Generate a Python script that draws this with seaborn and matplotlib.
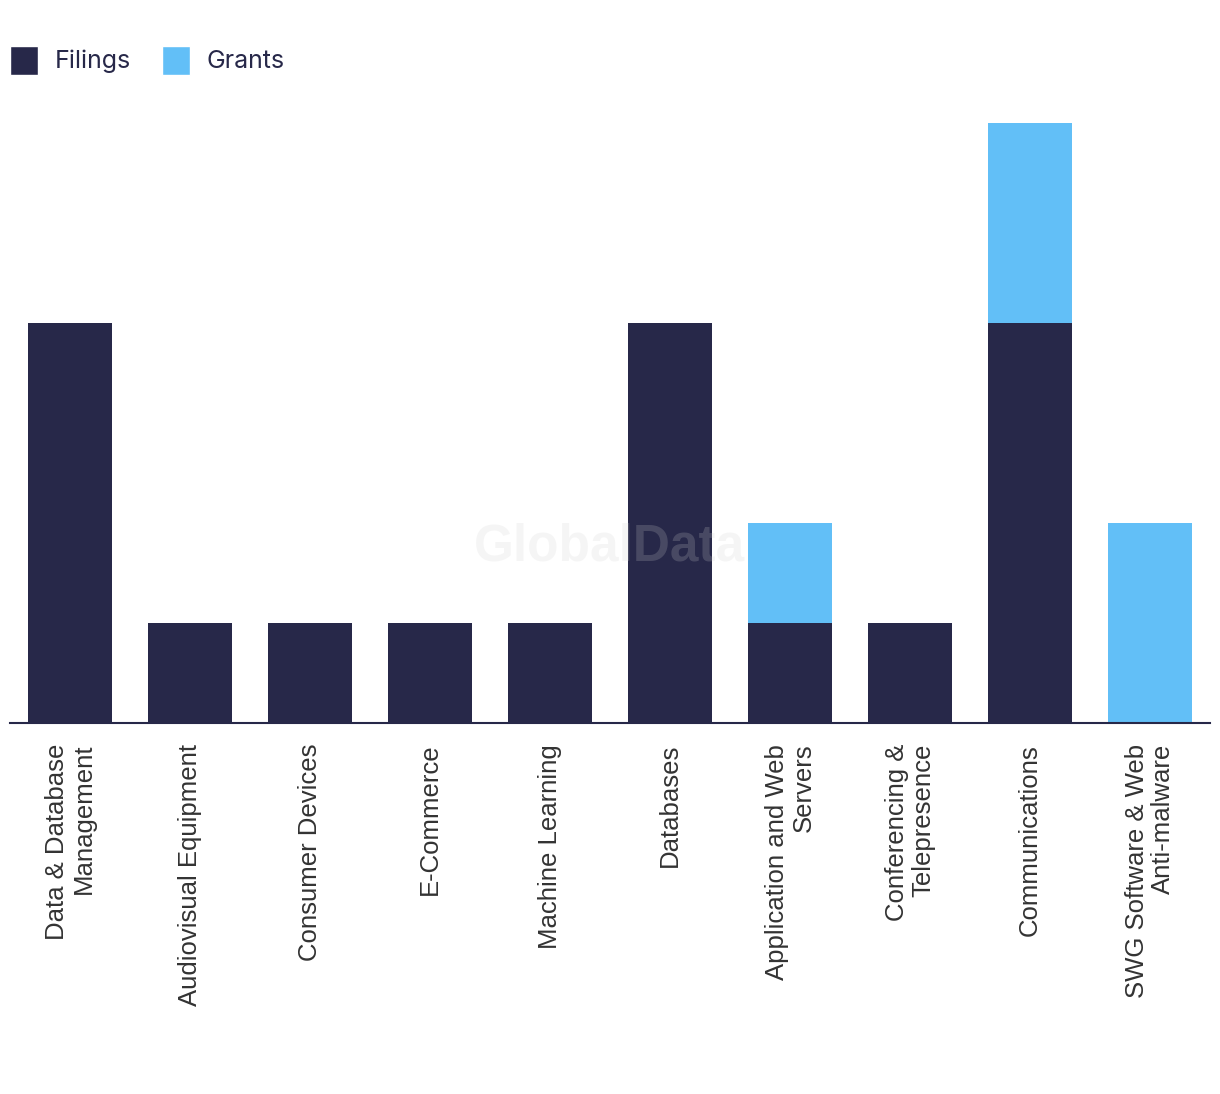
import matplotlib
matplotlib.use("Agg")
import matplotlib.pyplot as plt
from matplotlib.patches import Patch
import seaborn as sns
import pandas as pd

categories = [
    "Data & Database\nManagement",
    "Audiovisual Equipment",
    "Consumer Devices",
    "E-Commerce",
    "Machine Learning",
    "Databases",
    "Application and Web\nServers",
    "Conferencing &\nTelepresence",
    "Communications",
    "SWG Software & Web\nAnti-malware",
]
filings = [4, 1, 1, 1, 1, 4, 1, 1, 4, 0]
grants = [0, 0, 0, 0, 0, 0, 1, 0, 2, 2]

navy = "#272849"
blue = "#62bff7"

df = pd.DataFrame({"category": categories, "Filings": filings, "Grants": grants})
df["total"] = df["Filings"] + df["Grants"]

sns.set_style("white")
fig = plt.figure(figsize=(12.2, 10.94), dpi=100)
ax = fig.add_axes([10 / 1220, 371 / 1094, 1200 / 1220, 600 / 1094])

# stacked: total in grants colour, filings drawn over it
sns.barplot(data=df, x="category", y="total", color=blue, width=0.7,
            saturation=1, linewidth=0, ax=ax)
sns.barplot(data=df, x="category", y="Filings", color=navy, width=0.7,
            saturation=1, linewidth=0, ax=ax)

ax.set_xlim(-0.5, len(categories) - 0.5)
ax.set_ylim(0, 6)
ax.set_xlabel("")
ax.set_ylabel("")
ax.set_yticks([])
sns.despine(ax=ax, left=True)
ax.spines["bottom"].set_color(navy)
ax.spines["bottom"].set_linewidth(1.5)
ax.tick_params(axis="x", length=0, pad=15)
for lab in ax.get_xticklabels():
    lab.set_rotation(90)
    lab.set_ha("center")
    lab.set_va("top")
    lab.set_multialignment("right")
    lab.set_fontsize(18.5)
    lab.set_color("#333333")
    lab.set_family("Liberation Sans")
    lab.set_linespacing(1.15)

# watermark
fig.text(610 / 1220, 1 - 547 / 1094, "GlobalData", ha="center", va="center",
         fontsize=37, fontweight="bold", color="#d0d0d0", alpha=0.2,
         family="Liberation Sans", zorder=10)

handles = [Patch(facecolor=navy, label="Filings"), Patch(facecolor=blue, label="Grants")]
fig.legend(handles=handles, loc="upper left", bbox_to_anchor=(-0.004, 0.972), ncol=2,
           frameon=False, borderaxespad=0.2, handlelength=1.12, handleheight=1.4,
           handletextpad=0.65, columnspacing=1.25, labelcolor=navy,
           prop={"family": "Inter", "size": 18})

fig.savefig("out.png", dpi=100)
